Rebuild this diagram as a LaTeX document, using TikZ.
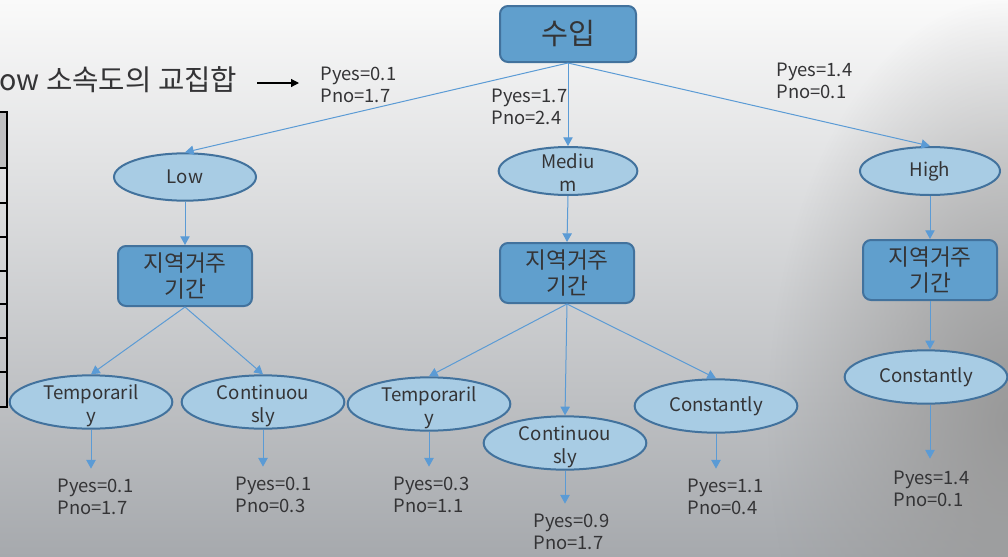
\documentclass[tikz,border=0pt]{standalone}
\usepackage{fontspec}
\setmainfont{Noto Sans CJK KR}
\usetikzlibrary{arrows.meta,shapes.geometric,fadings}

\definecolor{boxfill}{RGB}{96,159,205}
\definecolor{boxline}{RGB}{66,114,157}
\definecolor{ovalfill}{RGB}{168,204,228}
\definecolor{linkblue}{RGB}{91,155,213}
\definecolor{inkgray}{RGB}{52,52,54}
\definecolor{headgray}{RGB}{191,191,193}

% soft dark patch for the right edge
\tikzfading[name=edge glow, inner color=transparent!0, outer color=transparent!100]

% two lines of text that do not stretch the oval
\newcommand{\twoline}[2]{\smash{\raisebox{-7pt}{\begin{tabular}{@{}c@{}}#1\\#2\end{tabular}}}}

\tikzset{every picture/.style={line width=0.75pt},
	rootbox/.style={rectangle, rounded corners=6pt, draw=boxline, fill=boxfill, line width=1.5pt, minimum width=102pt, minimum height=42pt, text=inkgray, font=\fontsize{22}{26}\selectfont},
	stepbox/.style={rectangle, rounded corners=6pt, draw=boxline, fill=boxfill, line width=1.5pt, minimum width=100.5pt, minimum height=45pt, align=center, text=inkgray, font=\fontsize{17}{20}\selectfont, inner sep=1pt},
	oval/.style={ellipse, draw=boxline, fill=ovalfill, line width=1.5pt, inner sep=1pt, text=inkgray, font=\fontsize{14}{17}\selectfont},
	small oval/.style={oval, minimum width=105pt, minimum height=35.5pt},
	big oval/.style={oval, minimum width=122pt, minimum height=40pt},
	prob/.style={align=left, anchor=west, inner sep=0pt, text=inkgray, font=\fontsize{13.8}{16.5}\selectfont},
	link/.style={draw=linkblue, line width=0.75pt, -{Triangle[width=7pt,length=6.5pt]}},
}

\begin{document}
\begin{tikzpicture}[x=0.75pt,y=0.75pt,yscale=-1,xscale=1]
	\clip (0,0) rectangle (1008,557);

	%Background
	\shade [top color={rgb,255:red,250;green,250;blue,250}, middle color={rgb,255:red,230;green,231;blue,233}, bottom color={rgb,255:red,166;green,169;blue,173}] (0,0) rectangle (1008,557);
	\fill [black!40, path fading=edge glow, fit fading=true] (768,0) rectangle (1248,840);

	%Table edge on the left
	\fill [headgray] (-5,112) rectangle (7,168);
	\draw [line width=1.5pt] (-5,112) -- (7,112) -- (7,407) -- (-5,407);
	\foreach \ty in {168,203,237,271,304,338,372}
		\draw [line width=1.5pt] (-5,\ty) -- (7,\ty);

	% Text Node
	\node [anchor=west, inner sep=0pt, text=inkgray, font=\fontsize{21.5}{24}\selectfont] (cap) at (-1,80) {ow 소속도의 교집합};
	\coordinate (capend) at (299,83);
	\draw [line width=0.9pt, -{Triangle[width=6pt,length=6pt]}] (257,83) -- (capend);

	%Root
	\node [rootbox] (root) at (568,34) {수입};

	%Second level
	\node [small oval, minimum width=106.5pt] (low) at (185,177) {Low};
	\node [small oval, minimum width=104pt, minimum height=36pt] (med) at (568,171) {\twoline{Mediu}{m}};
	\node [small oval, minimum height=36pt] (high) at (930,171) {High};

	\draw [link] (root.south) -- (low.north);
	\draw [link] (root.south) -- (med.north);
	\draw [link] (root.south) -- (high.north);

	% Text Node
	\node [prob] (p1) at (320,84.5) {Pyes=0.1\\Pno=1.7};
	\node [prob] (p2) at (491,107) {Pyes=1.7\\Pno=2.4};
	\node [prob] (p3) at (776,81) {Pyes=1.4\\Pno=0.1};

	%Third level
	\node [stepbox] (lbox) at (185,276) {지역거주\\기간};
	\node [stepbox] (mbox) at (567,273) {지역거주\\기간};
	\node [stepbox] (hbox) at (930,270) {지역거주\\기간};

	\draw [link] (low.south) -- (lbox.north);
	\draw [link] (med.south) -- (mbox.north);
	\draw [link] (high.south) -- (hbox.north);

	%Leaves
	\node [big oval] (ltemp) at (91,402) {\twoline{Temporaril}{y}};
	\node [big oval] (lcont) at (263,402) {\twoline{Continuou}{sly}};
	\node [big oval] (mtemp) at (429,404) {\twoline{Temporaril}{y}};
	\node [big oval] (mcont) at (565,443) {\twoline{Continuou}{sly}};
	\node [big oval] (mconst) at (716,406) {Constantly};
	\node [big oval] (hconst) at (926,377) {Constantly};

	\draw [link] (lbox.south) -- (ltemp.north);
	\draw [link] (lbox.south) -- (lcont.north);
	\draw [link] (mbox.south) -- (mtemp.north);
	\draw [link] (mbox.south) -- (mcont.north);
	\draw [link] (mbox.south) -- (mconst.north);
	\draw [link] (hbox.south) -- (hbox.south |- hconst.north);

	% Text Node
	\node [prob] (q1) at (57,497) {Pyes=0.1\\Pno=1.7};
	\node [prob] (q2) at (235,495) {Pyes=0.1\\Pno=0.3};
	\node [prob] (q3) at (393,495) {Pyes=0.3\\Pno=1.1};
	\node [prob] (q4) at (533,532) {Pyes=0.9\\Pno=1.7};
	\node [prob] (q5) at (687,497) {Pyes=1.1\\Pno=0.4};
	\node [prob] (q6) at (893,489) {Pyes=1.4\\Pno=0.1};

	\draw [link, shorten >=7.5pt] (ltemp.south) -- (ltemp.south |- q1.north);
	\draw [link, shorten >=7.5pt] (lcont.south) -- (lcont.south |- q2.north);
	\draw [link, shorten >=7.5pt] (mtemp.south) -- (mtemp.south |- q3.north);
	\draw [link, shorten >=7.5pt] (mcont.south) -- (mcont.south |- q4.north);
	\draw [link, shorten >=7.5pt] (mconst.south) -- (mconst.south |- q5.north);
	\draw [link, shorten >=9pt] (hbox.south |- hconst.south) -- (hbox.south |- q6.north);

\end{tikzpicture}
\end{document}
